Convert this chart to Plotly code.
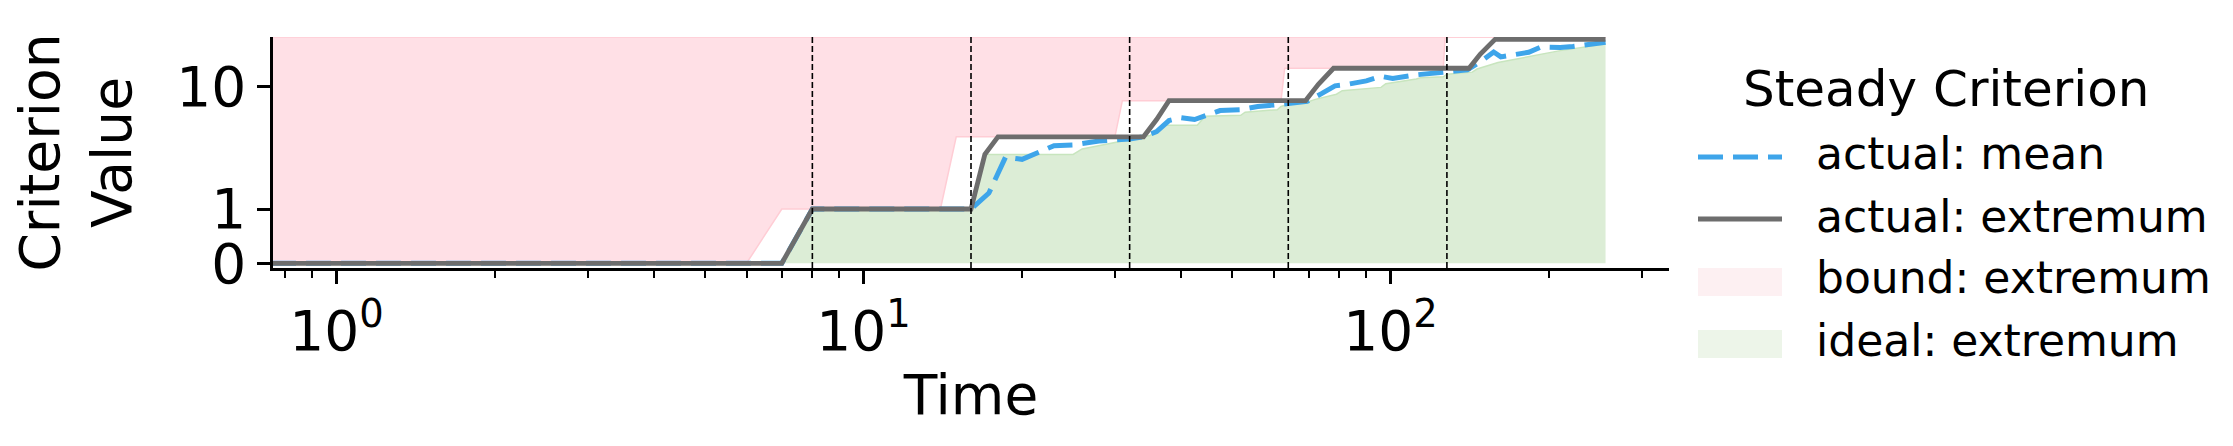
import math
import plotly.graph_objects as go

# Steady-criterion curves: (time, value) breakpoints
bound_time = [0, 1, 6, 7, 14, 15, 30, 31, 62, 63, 126, 127, 256]
bound_extremum = [0, 0, 0, 1, 1, 3.9, 3.9, 7.7, 7.7, 14.2, 14.2, 25.6, 25.6]
bound_ceiling = 25.6

extremum_time = [0, 1, 7, 8, 16, 17, 18, 34, 36, 38, 69, 73, 78, 141, 148, 158, 256]
actual_extremum = [0, 0, 0, 1, 1, 2.8, 3.9, 3.9, 5.4, 7.7, 7.7, 10.5, 14.2, 14.2, 18.5, 24.5, 24.5]

mean_time = [0, 1, 7, 8, 16, 17.3, 18.6, 20, 21.5, 23, 25, 28, 32, 34, 36, 38, 40, 42.5,
             45, 47.5, 52, 56, 64, 69.5, 74, 78.5, 82, 90, 96, 101, 111, 125, 140,
             149, 157, 162, 183, 193, 210, 222, 256]
actual_mean = [0, 0, 0, 1, 1, 1.35, 2.65, 2.55, 2.95, 3.3, 3.35, 3.6, 3.75, 3.9, 4.3, 5.3, 5.6, 5.4,
               5.9, 6.4, 6.5, 6.9, 7.3, 7.6, 8.8, 10.2, 10.4, 11.2, 12.2, 11.7, 12.5, 13.0, 13.8,
               16.3, 19.3, 17.6, 19.2, 21.2, 21.0, 21.4, 23.2]

ideal_time = [0, 1, 7, 8, 16, 17, 25, 26, 28, 32, 34, 35, 37, 43, 44.5, 52, 53, 61, 62, 64,
              69, 72, 79, 81, 96, 98, 112, 114, 126, 128, 143, 146, 160, 185, 210, 256]
ideal_extremum = [0, 0, 0, 1, 1, 2.8, 2.8, 3.1, 3.3, 3.7, 3.9, 4.0, 4.85, 4.85, 5.75, 5.85, 6.2, 6.5, 6.9, 7.2,
                  7.4, 7.9, 8.7, 9.3, 9.9, 10.6, 11.6, 11.9, 12.1, 12.7, 13.2, 14.0, 15.8, 17.8, 19.8, 22.4]

checkpoints = [8, 16, 32, 64, 128]
y_ticks = [0, 1, 10]
x_ticks = [1, 10, 100]
x_ticktext = ["10<sup>0</sup>", "10<sup>1</sup>", "10<sup>2</sup>"]
y_bottom = -0.087

FONT = "DejaVu Sans"
W, H = 2233, 446
L, R, T, B = 265, 572, 29, 186

# symlog y axis (linthresh=1, linscale=0.4), like matplotlib
LINTHRESH, LINSCALE = 1.0, 0.4


def symlog(v):
    lin = LINSCALE / (1 - 1 / 10)
    if abs(v) <= LINTHRESH:
        return v / LINTHRESH * lin
    return math.copysign(lin + math.log10(abs(v) / LINTHRESH), v)


# log x axis limits with 5% margins around the positive data
all_times = [t for t in bound_time + extremum_time + mean_time + ideal_time if t > 0]
lo, hi = math.log10(min(all_times)), math.log10(max(all_times))
span = hi - lo
x_range = [lo - 0.05 * span, hi + 0.05 * span]


def clip(times):
    # time 0 cannot sit on a log axis: push it past the left edge
    return [t if t > 0 else 10 ** (x_range[0] - 1) for t in times]


def sy(values):
    return [symlog(v) for v in values]


fig = go.Figure()

# bound: extremum (pink, from bound up to ceiling)
fig.add_trace(go.Scatter(
    x=clip(bound_time), y=sy([bound_ceiling] * len(bound_time)),
    mode="lines", line=dict(color="rgb(255,205,213)", width=1.5),
    showlegend=False, hoverinfo="skip"))
fig.add_trace(go.Scatter(
    x=clip(bound_time), y=sy(bound_extremum), mode="lines",
    line=dict(color="rgb(255,205,213)", width=1.5),
    fill="tonexty", fillcolor="rgb(255,224,230)", showlegend=False))

# ideal: extremum (green, from 0 up)
fig.add_trace(go.Scatter(
    x=clip(ideal_time), y=sy(ideal_extremum), mode="lines",
    line=dict(color="rgb(200,229,190)", width=1.5),
    fill="tozeroy", fillcolor="rgb(220,237,214)", showlegend=False))

# actual: mean (under the extremum line)
fig.add_trace(go.Scatter(
    x=clip(mean_time), y=sy(actual_mean), mode="lines",
    line=dict(color="#3ea5ea", width=5, dash="25px,10px"), showlegend=False))

# actual: extremum
fig.add_trace(go.Scatter(
    x=clip(extremum_time), y=sy(actual_extremum), mode="lines",
    line=dict(color="#6d6d6d", width=4.8), showlegend=False))

for c in checkpoints:
    fig.add_vline(x=c, line=dict(color="black", width=1.6, dash="6px,3px"), layer="above")

minor_vals = [m * 10 ** e for e in range(-1, 3) for m in range(2, 10)
              if x_range[0] <= math.log10(m * 10 ** e) <= x_range[1]]

fig.update_xaxes(
    type="log", range=x_range, showgrid=False, zeroline=False,
    showline=True, linecolor="black", linewidth=2.7,
    ticks="outside", ticklen=13, tickwidth=2.5, tickcolor="black",
    tickmode="array", tickvals=x_ticks, ticktext=x_ticktext,
    tickfont=dict(family=FONT, size=55, color="black"),
    minor=dict(tickmode="array", tickvals=minor_vals, ticks="outside",
               ticklen=7, tickwidth=2, tickcolor="black", showgrid=False),
    title=dict(text="Time", font=dict(family=FONT, size=55, color="black"), standoff=4),
)
fig.update_yaxes(
    range=[symlog(y_bottom), symlog(bound_ceiling)], showgrid=False, zeroline=False,
    showline=True, linecolor="black", linewidth=2.7,
    ticks="outside", ticklen=13, tickwidth=2.5, tickcolor="black",
    tickmode="array", tickvals=sy(y_ticks), ticktext=[str(v) for v in y_ticks],
    tickfont=dict(family=FONT, size=55, color="black"),
    title=dict(text="Criterion<br>Value", font=dict(family=FONT, size=55, color="black"), standoff=37),
)

# legend drawn by hand so the handles have matplotlib proportions
pw, ph = W - L - R, H - T - B


def px(x):
    return (x - L) / pw


def py(y):
    return (H - B - y) / ph


fig.add_annotation(text="Steady Criterion", x=px(1938), y=py(81), xref="paper", yref="paper",
                   showarrow=False, xanchor="center", yanchor="middle",
                   font=dict(family=FONT, size=50, color="black"))

legend_rows = [
    ("actual: mean", 145, dict(type="line", color="#3ea5ea", width=5, dash="25px,10px"), 149),
    ("actual: extremum", 208, dict(type="line", color="#6d6d6d", width=4.8, dash="solid"), 211),
    ("bound: extremum", 269, dict(type="rect", color="rgb(253,240,242)"), 274),
    ("ideal: extremum", 332, dict(type="rect", color="rgb(237,245,233)"), 336),
]
for label, ty, handle, hy in legend_rows:
    fig.add_annotation(text=label, x=px(1806), y=py(ty), xref="paper", yref="paper",
                       showarrow=False, xanchor="left", yanchor="middle",
                       font=dict(family=FONT, size=44, color="black"))
    if handle["type"] == "line":
        fig.add_shape(type="line", xref="paper", yref="paper",
                      x0=px(1690), x1=px(1774), y0=py(hy), y1=py(hy),
                      line=dict(color=handle["color"], width=handle["width"], dash=handle["dash"]))
    else:
        fig.add_shape(type="rect", xref="paper", yref="paper",
                      x0=px(1690), x1=px(1774), y0=py(hy - 14), y1=py(hy + 14),
                      line=dict(width=0), fillcolor=handle["color"])

fig.update_layout(
    width=W, height=H, autosize=False,
    margin=dict(l=L, r=R, t=T, b=B),
    paper_bgcolor="white", plot_bgcolor="white",
    font=dict(family=FONT, color="black"),
    showlegend=False,
)

fig.write_html("out.html")
